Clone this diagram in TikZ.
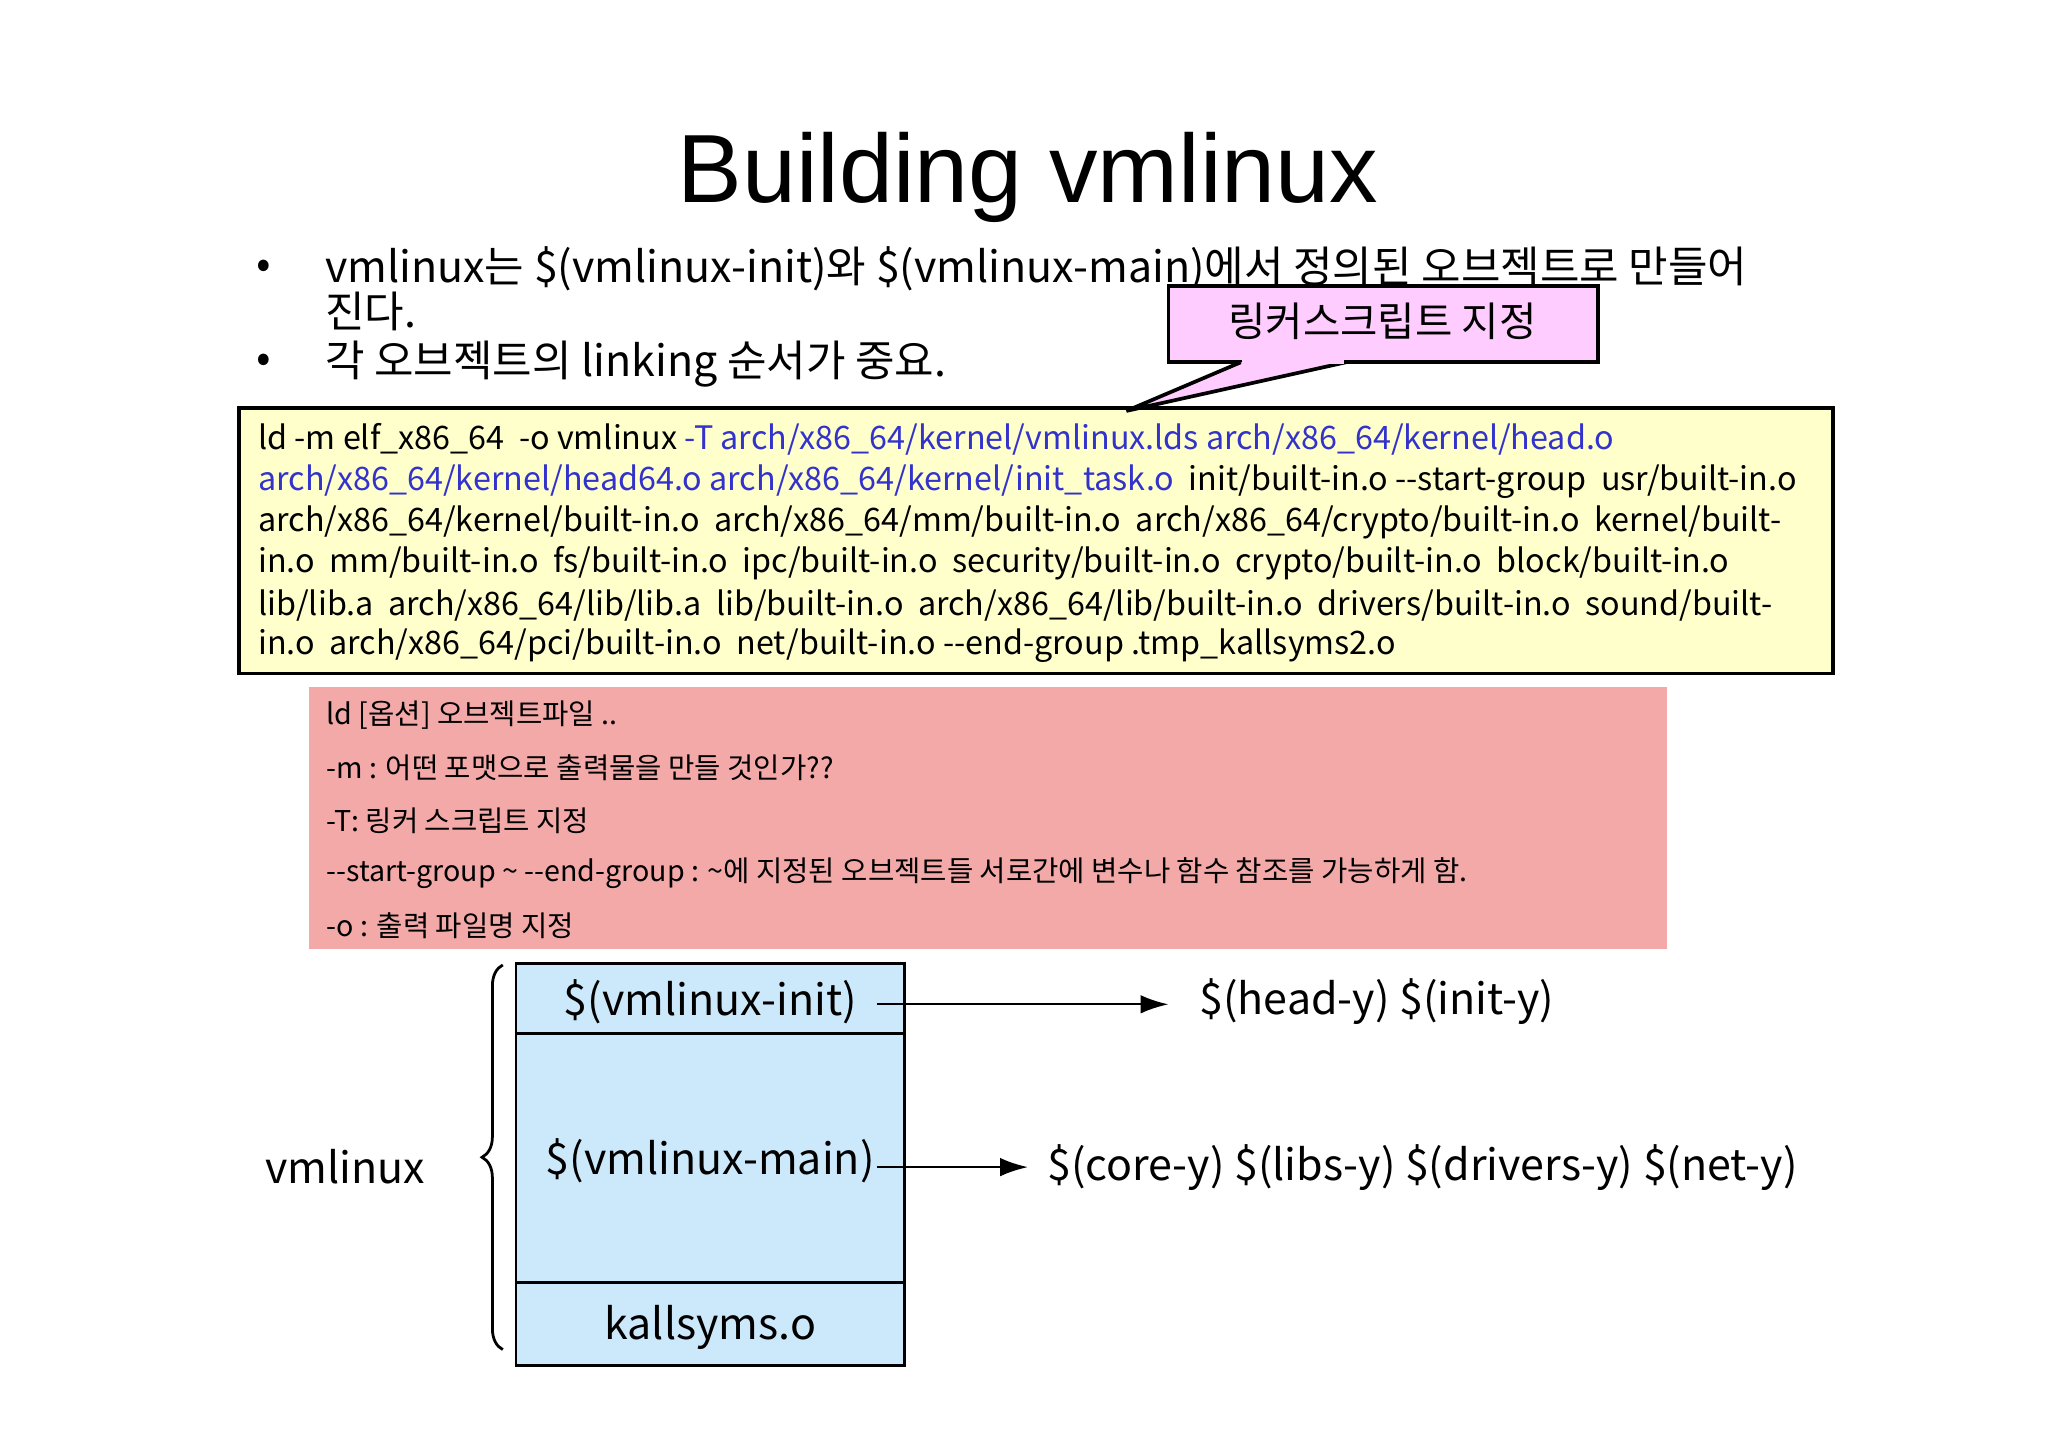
\documentclass[tikz,border=0pt]{standalone}
\usepackage{fontspec}
\setmainfont{Noto Sans CJK KR}
\newfontfamily\lat{Liberation Sans}
\usetikzlibrary{decorations.pathreplacing,arrows.meta}
\definecolor{ybox}{HTML}{FFFFCC}
\definecolor{rbox}{HTML}{F4A9A9}
\definecolor{pbox}{HTML}{FFCCFF}
\definecolor{bbox}{HTML}{CCE9FB}
\definecolor{blu}{HTML}{3333CC}
\tikzset{
 cmd/.style={anchor=west,inner sep=0pt,font=\fontsize{7.0pt}{9pt}\selectfont},
 opt/.style={anchor=west,inner sep=0pt,font=\fontsize{6.2pt}{8pt}\selectfont},
 big/.style={inner sep=0pt,font=\fontsize{9.3pt}{11pt}\selectfont},
 cell/.style={draw,fill=bbox,line width=0.6pt},
 arr/.style={-{Latex[length=6pt,width=4pt]},line width=0.5pt}
}
\begin{document}
\begin{tikzpicture}[x=0.01cm,y=-0.01cm]
\useasboundingbox (0,0) rectangle (1560,1103);
\node[font=\fontsize{21pt}{26pt}\selectfont\lat] (title) at (783,135) {Building vmlinux};
\node[big,anchor=west] (b1) at (195,205) {•};
\node[big,anchor=west] (t1) at (247,205) {vmlinux는 \$(vmlinux-init)와 \$(vmlinux-main)에서 정의된 오브젝트로 만들어};
\node[big,anchor=west] (t1b) at (247,237) {진다.};
\node[big,anchor=west] (b2) at (195,277) {•};
\node[big,anchor=west] (t2) at (247,277) {각 오브젝트의 linking 순서가 중요.};
% yellow box
\draw[fill=ybox,line width=0.8pt] (182,311) rectangle (1396,513);
\node[cmd] (l1) at (196,335) {ld -m elf\_x86\_64 \ -o vmlinux {\color{blu}-T arch/x86\_64/kernel/vmlinux.lds arch/x86\_64/kernel/head.o}};
\node[cmd] (l2) at (196,367) {{\color{blu}arch/x86\_64/kernel/head64.o arch/x86\_64/kernel/init\_task.o} \ init/built-in.o -{}-start-group \ usr/built-in.o};
\node[cmd] (l3) at (196,398) {arch/x86\_64/kernel/built-in.o \ arch/x86\_64/mm/built-in.o \ arch/x86\_64/crypto/built-in.o \ kernel/built-};
\node[cmd] (l4) at (196,429) {in.o \ mm/built-in.o \ fs/built-in.o \ ipc/built-in.o \ security/built-in.o \ crypto/built-in.o \ block/built-in.o};
\node[cmd] (l5) at (196,461) {lib/lib.a \ arch/x86\_64/lib/lib.a \ lib/built-in.o \ arch/x86\_64/lib/built-in.o \ drivers/built-in.o \ sound/built-};
\node[cmd] (l6) at (196,492) {in.o \ arch/x86\_64/pci/built-in.o \ net/built-in.o -{}-end-group .tmp\_kallsyms2.o};
% callout
\draw[fill=pbox,line width=0.8pt] (890,218) rectangle (1217,276);
\draw[fill=pbox,line width=0.8pt] (945,276) -- (858,313) -- (1025,276);
\fill[pbox] (946,274) -- (1024,274) -- (1024,277) -- (946,277) -- cycle;
\node[big,font=\fontsize{8.8pt}{10pt}\selectfont] (callout) at (1053,245) {링커스크립트 지정};
% red box
\fill[rbox] (235,523) rectangle (1270,723);
\node[opt] (o1) at (248,545) {ld [옵션] 오브젝트파일 ..};
\node[opt] (o2) at (248,585) {-m : 어떤 포맷으로 출력물을 만들 것인가??};
\node[opt] (o3) at (248,625) {-T: 링커 스크립트 지정};
\node[opt] (o4) at (248,665) {-{}-start-group \textasciitilde{} -{}-end-group : \textasciitilde{}에 지정된 오브젝트들 서로간에 변수나 함수 참조를 가능하게 함.};
\node[opt] (o5) at (248,705) {-o : 출력 파일명 지정};
% stack
\draw[cell] (393,734) rectangle (689,787);
\draw[cell] (393,787) rectangle (689,977);
\draw[cell] (393,977) rectangle (689,1040);
\node[big] (init) at (541,763) {\$(vmlinux-init)};
\node[big] (main) at (541,884) {\$(vmlinux-main)};
\node[big] (kall) at (541,1011) {kallsyms.o};
\node[big,anchor=west] (hy) at (913,763) {\$(head-y) \$(init-y)};
\node[big,anchor=west] (cy) at (797,889) {\$(core-y) \$(libs-y) \$(drivers-y) \$(net-y)};
\coordinate (a1) at (668,765);
\coordinate (a1e) at (890,765);
\coordinate (a2) at (668,889);
\coordinate (a2e) at (783,889);
\draw[arr] (a1) -- (a1e);
\draw[arr] (a2) -- (a2e);
\node[big] (vm) at (263,889) {vmlinux};
\draw[decorate,decoration={brace,amplitude=4.5pt,mirror},line width=0.6pt] (383,735) -- (383,1028);
\end{tikzpicture}
\end{document}
